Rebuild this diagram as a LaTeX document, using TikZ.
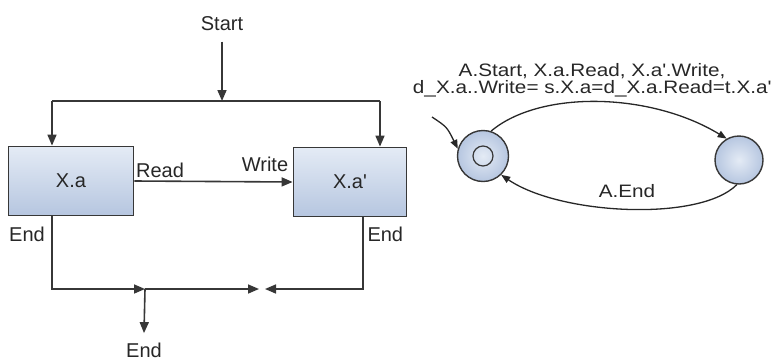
\documentclass[tikz,border=0pt]{standalone}
\usepackage{fontspec}
\setmainfont{Liberation Sans}
\newfontfamily\widesans{Liberation Sans}[FakeStretch=1.15]
\usetikzlibrary{arrows.meta}
\definecolor{boxtop}{RGB}{228,235,245}
\definecolor{boxbot}{RGB}{182,198,224}
\definecolor{ink}{RGB}{55,55,55}

\begin{document}
\begin{tikzpicture}[x=1pt,y=-1pt,
  every node/.style={font=\fontsize{20}{24}\selectfont, text=ink!70!black},
  wire/.style={draw=ink, line width=1.6pt},
  arr/.style={wire, -{Triangle[length=11pt,width=9pt]}},
  tarr/.style={draw=ink!70!black, line width=1.3pt, -{Triangle[length=9pt,width=7pt]}},
  block/.style={draw=ink, line width=1.8pt, top color=boxtop, bottom color=boxbot, minimum height=69pt},
  state/.style={circle, draw=ink, line width=1.4pt, inner color=boxtop, outer color=boxbot, minimum size=51pt},
  small/.style={font=\widesans\fontsize{18}{17}\selectfont}]
\useasboundingbox (0,0) rectangle (771,362);
% block view
\node (start) at (222,24) {Start};
\node[block, minimum width=125pt] (xa) at (71,181) {X.a};
\node[block, minimum width=113pt] (xb) at (350,182) {X.a\textquotesingle};
\coordinate (fork) at (222,101);
\coordinate (forkl) at (52,101);
\coordinate (forkr) at (380,101);
\draw[arr] ([yshift=-7pt]start.south) -- (fork);
\draw[wire] (forkl) -- (forkr);
\draw[arr] (forkl) -- (forkl |- xa.north);
\draw[arr] (forkr) -- (forkr |- xb.north);
\draw[arr] (xa.east) -- (xb.west);
\node (read) at (160,170) {Read};
\node (write) at (265,164) {Write};
\node (endl) at (27,234) {End};
\node[anchor=west] (endr) at (364,234) {End};
\coordinate (dropl) at (52,289);
\coordinate (dropr) at (363,289);
\coordinate (join) at (145,289);
\coordinate (meetl) at (259,289);
\coordinate (meetr) at (265,289);
\draw[arr] (xa.south -| dropl) -- (dropl) -- (join);
\draw[arr] (join) -- (meetl);
\draw[arr] (xb.south -| dropr) -- (dropr) -- (meetr);
\node (endb) at (144,350) {End};
\draw[arr] (join) -- ([yshift=6pt]endb.north);
% state view
\node[state] (s0) at (483,156) {};
\draw[ink, line width=1.2pt] (s0.center) circle (10);
\node[state, minimum size=48pt] (s1) at (739,160) {};
\coordinate (init) at (432,117);
\draw[tarr] (init) .. controls (447,127) .. (s0.164);
\draw[tarr] (s0.72) .. controls (540,90) and (650,92) .. (s1.120);
\draw[tarr] (s1.265) .. controls (700,222) and (560,215) .. (s0.-46);
\node[small, align=center, inner sep=0pt] (lbl) at (592,80)
  {A.Start, X.a.Read, X.a\textquotesingle.Write,\\d\_X.a..Write= s.X.a=d\_X.a.Read=t.X.a\textquotesingle};
\node[small] (aend) at (627,191) {A.End};
\end{tikzpicture}
\end{document}
